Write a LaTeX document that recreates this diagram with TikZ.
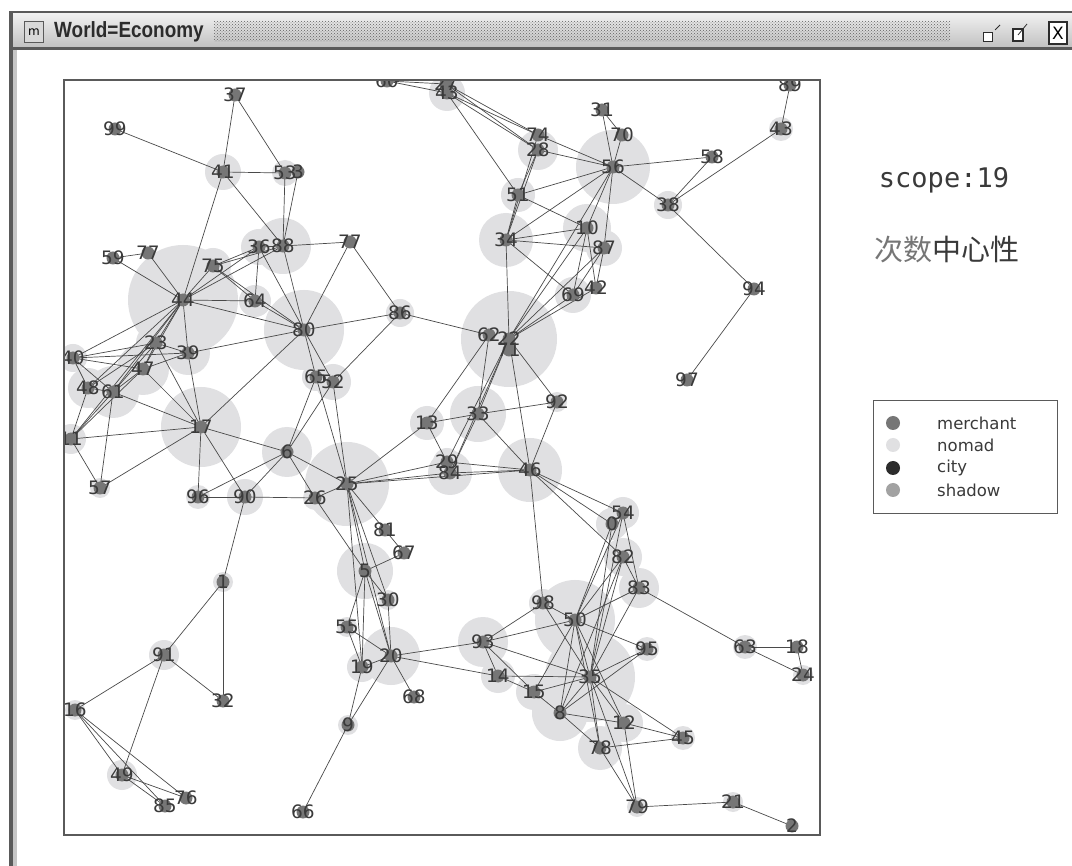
\documentclass[tikz,border=0pt]{standalone}
\usepackage{fontspec}
\setmainfont{DejaVu Sans}
\newfontfamily\cjkfont{Noto Sans CJK SC}
\newfontfamily\monofont{DejaVu Sans Mono}
\newfontfamily\titlefont{Liberation Sans}
\usetikzlibrary{patterns}
\definecolor{merchant-gray}{HTML}{767676}
\definecolor{nomad-gray}{HTML}{E0E0E2}
\definecolor{city-gray}{HTML}{2C2C2C}
\definecolor{shadow-gray}{HTML}{A2A2A2}
\definecolor{label-gray}{HTML}{3A3A3A}
\definecolor{link-gray}{HTML}{4A4A4A}
\definecolor{frame-gray}{HTML}{5A5A5A}
\tikzset{
    agent-halo/.style = {fill=nomad-gray},
    agent-dot/.style = {circle, fill=merchant-gray, minimum size=13pt, inner sep=0pt},
    agent-label/.style = {text=label-gray, inner sep=0pt, font=\fontsize{18.5}{18.5}\selectfont},
    agent-link/.style = {draw=link-gray, line width=0.7pt},
    legend-dot/.style = {circle, minimum size=14pt, inner sep=0pt},
    legend-text/.style = {anchor=west, inner sep=0pt, text=label-gray, font=\fontsize{16.5}{16.5}\selectfont},
}

\begin{document}
\begin{tikzpicture}[x=1pt, y=-1pt]
\useasboundingbox (0,0) rectangle (1072,866);
\fill[white] (0,0) rectangle (1072,866);

% window frame and title bar
\fill[frame-gray] (9,11) rectangle (1072,14);
\shade[top color=gray!12, bottom color=gray!48] (9,14) rectangle (1072,47);
\fill[frame-gray] (9,47) rectangle (1072,50);
\fill[frame-gray] (9,11) rectangle (13,866);
\fill[gray!45] (13,50) rectangle (17,866);
\fill[pattern=crosshatch dots, pattern color=gray!75!black] (214,22) rectangle (950,42);
\node[draw=frame-gray, fill=gray!30, minimum width=19pt, minimum height=21pt, inner sep=0pt,
      font=\fontsize{12}{12}\selectfont] (title-icon) at (34,32) {m};
\node[anchor=west, inner sep=0pt, text=city-gray, font=\titlefont\bfseries\fontsize{22}{22}\selectfont]
      (title-text) at (54,32) {\scalebox{0.86}[1]{World=Economy}};
\node[draw=city-gray, fill=white, line width=1.2pt, minimum size=9pt, inner sep=0pt] (min-button) at (988,37) {};
\draw[city-gray, line width=0.8pt] (min-button.north east) ++(2,-2) -- ++(5,-5);
\node[draw=city-gray, fill=white, line width=1.2pt, minimum width=10pt, minimum height=12pt, inner sep=0pt] (max-button) at (1018,35) {};
\draw[city-gray, line width=0.8pt] (max-button.center) -- ++(9,-11);
\node[draw=city-gray, fill=white, line width=1.2pt, minimum width=18pt, minimum height=22pt, inner sep=0pt,
      font=\fontsize{17}{17}\selectfont] (close-button) at (1058,33) {X};

% agent positions
\foreach \id/\x/\y in {37/235/95, 99/115/129, 41/223/172, 53/285/173, 3/298/172,
    59/113/258, 77a/148/253, 75/213/266, 36/259/247, 88/283/246, 77b/350/242,
    64/255/301, 44/183/300, 80/304/330, 86/400/313, 62/489/335, 22/509/339, 71/509/350,
    65/316/377, 52/333/382, 39/188/353, 23/156/343, 40/73/358, 47/143/369,
    48/88/388, 61/113/392, 11/71/439, 17/201/427, 57/100/488, 6/287/452,
    96/198/497, 90/245/497, 26/315/498, 25/347/484, 13/427/423, 33/478/414,
    29/447/462, 84/450/473, 92/557/402, 46/530/470, 81/385/530, 67/404/553,
    5/365/571, 30/388/600, 55/347/627, 20/391/656, 19/362/667, 68/414/697,
    9/348/725, 66/303/812, 1/223/582, 91/164/655, 32/223/701, 16/75/710,
    49/122/775, 85/165/806, 76/186/798, 54/623/513, 0/612/524, 82/623/557,
    83/639/588, 98/543/603, 50/575/620, 93/483/642, 95/647/649, 14/498/676,
    15/534/692, 35/590/677, 8/560/713, 12/624/723, 45/683/738, 78/600/748,
    79/637/807, 21/733/802, 2/792/826, 63/745/647, 18/797/647, 24/803/675,
    60/387/81, 27/446/84, 43a/447/93, 74/538/135, 28/538/150, 51/518/195,
    34/506/240, 31/602/110, 70/622/135, 56/613/167, 58/712/157, 89/790/85,
    43b/781/129, 38/668/205, 10/587/228, 87/604/248, 69/573/295, 42/596/288,
    94/754/289, 97/687/380}
    \coordinate (n\id) at (\x,\y);

\begin{scope}
\clip (64,80) rectangle (820,835);
% centrality halos
\foreach \id/\r in {41/18, 53/13, 88/28, 36/18, 75/18, 64/16, 44/55, 80/40, 39/22,
    23/20, 47/26, 61/26, 48/20, 40/14, 11/15, 17/40, 6/25, 90/18, 96/12, 25/42,
    52/18, 65/14, 13/17, 33/28, 84/22, 22/48, 46/32, 34/27, 51/17, 28/20, 43a/18,
    56/37, 10/24, 87/18, 69/18, 38/14, 43b/12, 5/28, 20/29, 19/15, 93/25, 14/17,
    15/18, 50/40, 35/45, 8/28, 12/19, 78/22, 82/19, 83/20, 54/16, 0/16, 91/15,
    49/15, 1/10, 16/10, 95/12, 98/14, 45/12, 57/10, 26/12, 55/10, 30/10, 9/10,
    86/14, 92/10, 62/14, 29/14, 63/12, 24/10, 79/10, 21/10}
    \fill[agent-halo] (n\id) circle[radius=\r pt];

% links
\foreach \a/\b in {37/41, 37/53, 99/41, 41/53, 41/44, 41/88, 53/88, 3/88,
    59/77a, 59/44, 77a/44, 75/44, 75/36, 75/88, 75/64, 75/80,
    36/44, 88/44, 36/64, 36/88, 88/77b, 88/80, 36/80,
    44/64, 44/80, 44/40, 44/23, 44/47, 44/61, 44/48, 44/11, 44/39,
    64/80, 77b/80, 77b/86, 80/86, 86/62, 86/52,
    80/65, 80/52, 80/39, 80/17,
    39/40, 39/23, 39/17, 39/47, 40/47, 40/48, 40/61, 40/23,
    23/47, 23/61, 23/17, 23/48, 47/61, 47/17, 47/11,
    61/17, 61/11, 61/57, 61/48, 48/11, 11/17, 11/57, 57/17,
    17/96, 17/90, 17/6, 96/90, 96/6, 90/6, 90/26, 90/1,
    6/26, 6/25, 6/65, 6/52, 26/25, 26/5, 65/25, 52/25,
    25/13, 25/29, 25/84, 25/46, 25/5, 25/30, 25/20, 25/19, 25/81, 81/67,
    13/62, 13/33, 13/29, 62/33, 22/33, 22/29, 22/84,
    22/34, 22/10, 22/87, 22/69, 22/42, 22/56, 22/92, 22/46,
    33/92, 33/46, 33/84, 29/46, 84/46, 92/46,
    46/54, 46/0, 46/82, 46/98,
    54/0, 54/83, 82/83, 0/50, 0/35, 54/50, 54/35, 82/50, 82/35, 82/8,
    83/50, 83/35, 83/63, 98/50, 98/93, 98/35,
    50/93, 50/95, 50/35, 50/15, 50/8, 50/12, 50/78,
    93/20, 93/14, 93/15, 93/35, 14/20, 14/15, 14/35, 15/35, 15/8,
    8/35, 8/12, 8/78, 8/95, 35/95, 35/12, 35/45, 35/78, 35/79,
    12/45, 78/45, 78/79, 12/79, 79/21, 21/2, 63/18, 63/24, 18/24,
    5/67, 5/30, 5/55, 5/19, 5/20, 30/20, 55/20, 55/19, 19/20, 19/9,
    20/9, 20/68, 9/66,
    1/91, 1/32, 91/32, 91/16, 91/49, 16/49, 16/85, 16/76, 49/85, 49/76,
    60/27, 60/43a, 27/74, 27/28, 43a/74, 43a/28, 43a/51,
    74/56, 28/56, 28/51, 28/34, 74/34,
    51/34, 51/56, 51/10, 34/56, 34/10, 34/87, 34/69,
    31/56, 31/70, 70/56, 56/58, 56/38, 56/10, 56/87,
    58/38, 38/43b, 43b/89, 38/94, 94/97, 10/69, 10/42, 87/69, 87/42}
    \draw[agent-link] (n\a) -- (n\b);

% agents and their numbers
\foreach \id/\lab in {37/37, 99/99, 41/41, 53/53, 3/3, 59/59, 77a/77, 75/75, 36/36,
    88/88, 77b/77, 64/64, 44/44, 80/80, 86/86, 62/62, 22/22, 71/71, 65/65, 52/52,
    39/39, 23/23, 40/40, 47/47, 48/48, 61/61, 11/11, 17/17, 57/57, 6/6, 96/96,
    90/90, 26/26, 25/25, 13/13, 33/33, 29/29, 84/84, 92/92, 46/46, 81/81, 67/67,
    5/5, 30/30, 55/55, 20/20, 19/19, 68/68, 9/9, 66/66, 1/1, 91/91, 32/32, 16/16,
    49/49, 85/85, 76/76, 54/54, 0/0, 82/82, 83/83, 98/98, 50/50, 93/93, 95/95,
    14/14, 15/15, 35/35, 8/8, 12/12, 45/45, 78/78, 79/79, 21/21, 2/2, 63/63,
    18/18, 24/24, 60/60, 27/27, 43a/43, 74/74, 28/28, 51/51, 34/34, 31/31, 70/70,
    56/56, 58/58, 89/89, 43b/43, 38/38, 10/10, 87/87, 69/69, 42/42, 94/94, 97/97}
    \node[agent-dot] (d\id) at (n\id) {};
\foreach \id/\lab in {37/37, 99/99, 41/41, 53/53, 3/3, 59/59, 77a/77, 75/75, 36/36,
    88/88, 77b/77, 64/64, 44/44, 80/80, 86/86, 62/62, 22/22, 71/71, 65/65, 52/52,
    39/39, 23/23, 40/40, 47/47, 48/48, 61/61, 11/11, 17/17, 57/57, 6/6, 96/96,
    90/90, 26/26, 25/25, 13/13, 33/33, 29/29, 84/84, 92/92, 46/46, 81/81, 67/67,
    5/5, 30/30, 55/55, 20/20, 19/19, 68/68, 9/9, 66/66, 1/1, 91/91, 32/32, 16/16,
    49/49, 85/85, 76/76, 54/54, 0/0, 82/82, 83/83, 98/98, 50/50, 93/93, 95/95,
    14/14, 15/15, 35/35, 8/8, 12/12, 45/45, 78/78, 79/79, 21/21, 2/2, 63/63,
    18/18, 24/24, 60/60, 27/27, 43a/43, 74/74, 28/28, 51/51, 34/34, 31/31, 70/70,
    56/56, 58/58, 89/89, 43b/43, 38/38, 10/10, 87/87, 69/69, 42/42, 94/94, 97/97}
    \node[agent-label] (l\id) at (n\id) {\lab};
\end{scope}
\draw[frame-gray, line width=1.2pt] (64,80) rectangle (820,835);

% scope and measure
\node[text=label-gray, font=\monofont\fontsize{27}{27}\selectfont] (scope-label) at (944,180) {scope:19};
\node[font=\cjkfont\fontsize{29}{29}\selectfont] (measure-label) at (947,250)
    {\textcolor{merchant-gray}{次数}\textcolor{label-gray}{中心性}};

% legend
\draw[frame-gray, line width=0.9pt] (873,400) rectangle (1057,513);
\node[legend-dot, fill=merchant-gray] (key-merchant) at (893,423) {};
\node[legend-dot, fill=nomad-gray] (key-nomad) at (893,445) {};
\node[legend-dot, fill=city-gray] (key-city) at (893,468) {};
\node[legend-dot, fill=shadow-gray] (key-shadow) at (893,490) {};
\node[legend-text] (key-merchant-text) at (937,423) {merchant};
\node[legend-text] (key-nomad-text) at (937,445) {nomad};
\node[legend-text] (key-city-text) at (937,468) {city};
\node[legend-text] (key-shadow-text) at (937,490) {shadow};
\end{tikzpicture}
\end{document}
